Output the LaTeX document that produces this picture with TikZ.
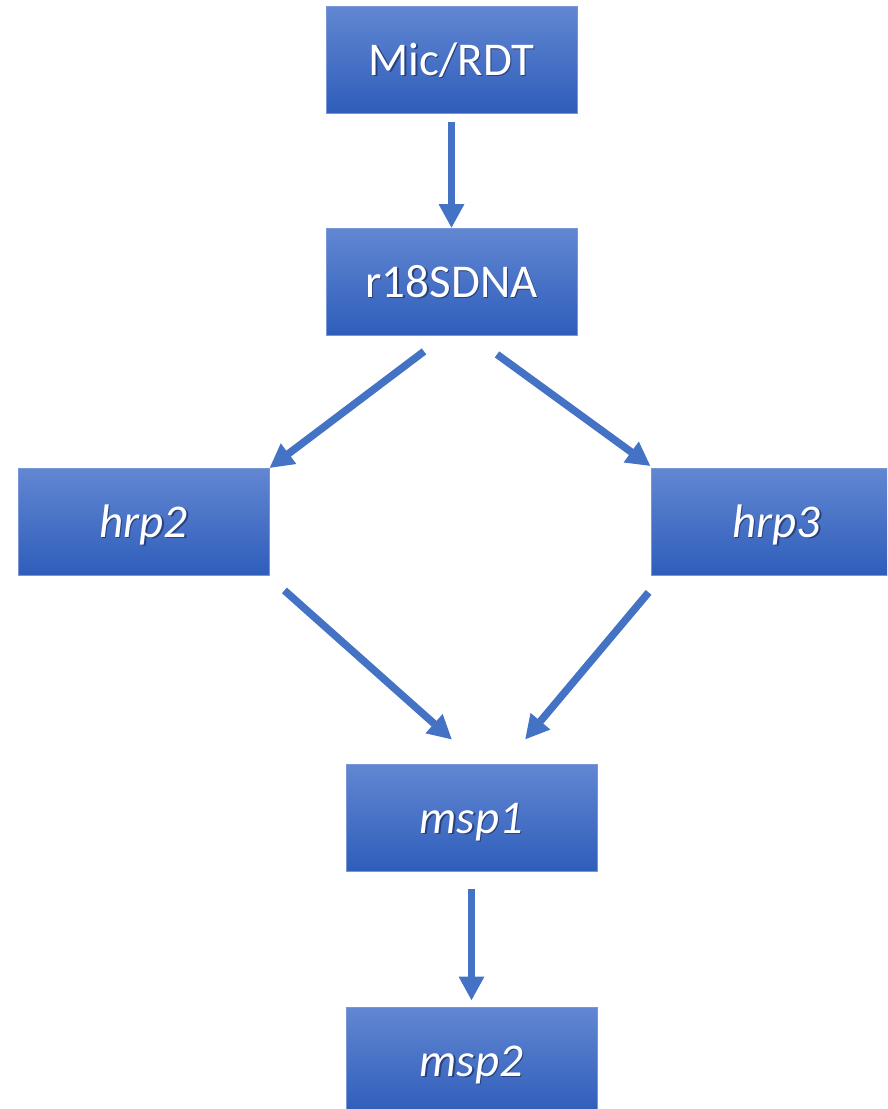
\documentclass[tikz,border=0pt]{standalone}
\usepackage{fontspec}
\setmainfont{Carlito}
\usetikzlibrary{arrows.meta}
\definecolor{boxtop}{RGB}{98,135,210}
\definecolor{boxmid}{RGB}{68,114,196}
\definecolor{boxbot}{RGB}{46,93,186}
\definecolor{boxedge}{RGB}{120,150,215}
\definecolor{arrowblue}{RGB}{68,114,196}
\definecolor{textshade}{RGB}{40,64,125}
% white label with a slight dark offset shadow behind it
\newcommand{\shlabel}[1]{\makebox[0pt][l]{\hspace{1.4pt}\raisebox{-1.4pt}{\textcolor{textshade}{#1}}}#1}
\begin{document}
\begin{tikzpicture}[x=1pt,y=-1pt,
  box/.style={minimum width=251pt, minimum height=107pt, inner sep=0pt,
    text height=35pt, text depth=4pt,
    top color=boxtop, middle color=boxmid, bottom color=boxbot,
    draw=boxedge, line width=0.8pt, text=white,
    font=\fontsize{47}{56}\selectfont},
  link/.style={draw=arrowblue, line width=7.5pt,
    -{Triangle[length=24pt,width=24pt]}}]
\useasboundingbox (0,0) rectangle (887,1109);
\clip (0,0) rectangle (887,1109);

\node[box] (mic)  at (451.5,59.5)  {\shlabel{Mic/RDT}};
\node[box] (r18)  at (451.5,282)   {\shlabel{r18SDNA}};
\node[box] (hrp2) at (143.5,522)   {\shlabel{\itshape hrp2}};
\node[box] (hrp3) at (776.5,522)   {\shlabel{\itshape hrp3}};
\node[box] (msp1) at (471.5,818)   {\shlabel{\itshape msp1}};
\node[box] (msp2) at (471.5,1060.5){\shlabel{\itshape msp2}};

\draw[link] ([shift={(0,9)}]mic.south) -- (r18.north);
\draw[link] ([shift={(-27.5,15.5)}]r18.south) -- (hrp2.north east);
\draw[link] ([shift={(45.5,18.5)}]r18.south) -- ([shift={(0,-2)}]hrp3.north west);
\draw[link] ([shift={(15,14.5)}]hrp2.south east) -- ([shift={(-19.5,-24.5)}]msp1.north);
\draw[link] ([shift={(-2,16.5)}]hrp3.south west) -- ([shift={(53.5,-24.5)}]msp1.north);
\draw[link] ([shift={(0,17.5)}]msp1.south) -- ([shift={(0,-6)}]msp2.north);
\end{tikzpicture}
\end{document}
